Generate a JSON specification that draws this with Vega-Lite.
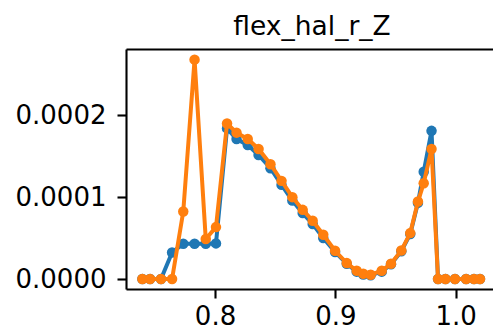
{
  "$schema": "https://vega.github.io/schema/vega-lite/v6.json",
  "width": 367,
  "height": 240,
  "autosize": {"type": "none"},
  "padding": {"left": 126, "top": 49, "right": 0, "bottom": 41},
  "background": "white",
  "config": {
    "view": {"stroke": null},
    "font": "DejaVu Sans",
    "axis": {
      "grid": false,
      "title": null,
      "labelFont": "DejaVu Sans",
      "labelFontSize": 26,
      "labelColor": "black",
      "domainColor": "black",
      "domainWidth": 2.1,
      "tickColor": "black",
      "tickWidth": 2.1,
      "tickSize": 9,
      "labelPadding": 11,
      "labelFlush": false,
      "labelOverlap": false
    }
  },
  "title": {
    "text": "flex_hal_r_Z",
    "font": "DejaVu Sans",
    "fontSize": 26.5,
    "fontWeight": "normal",
    "color": "black",
    "anchor": "middle",
    "frame": "group",
    "baseline": "alphabetic",
    "offset": -12,
    "dx": 2.5
  },
  "datasets": {
    "blue": [
      {"x": 0.7396, "y": 0}, {"x": 0.7460, "y": 0}, {"x": 0.7551, "y": 0}, {"x": 0.7643, "y": 0.0000324},
      {"x": 0.7736, "y": 0.000043}, {"x": 0.7830, "y": 0.000043}, {"x": 0.7923, "y": 0.000043}, {"x": 0.8008, "y": 0.0000435},
      {"x": 0.8100, "y": 0.000184}, {"x": 0.8179, "y": 0.000171}, {"x": 0.8272, "y": 0.0001638}, {"x": 0.8362, "y": 0.0001516},
      {"x": 0.8461, "y": 0.0001354}, {"x": 0.8553, "y": 0.000115}, {"x": 0.8643, "y": 0.0000959}, {"x": 0.8729, "y": 0.0000805},
      {"x": 0.8812, "y": 0.0000671}, {"x": 0.8900, "y": 0.00005}, {"x": 0.8998, "y": 0.000033}, {"x": 0.9095, "y": 0.0000185},
      {"x": 0.9178, "y": 0.000009}, {"x": 0.9233, "y": 0.0000055}, {"x": 0.9294, "y": 0.0000045}, {"x": 0.9386, "y": 0.000009},
      {"x": 0.9463, "y": 0.000018}, {"x": 0.9549, "y": 0.000034}, {"x": 0.9623, "y": 0.000055}, {"x": 0.9687, "y": 0.000093},
      {"x": 0.9735, "y": 0.000131}, {"x": 0.9800, "y": 0.000181}, {"x": 0.9854, "y": 0}, {"x": 0.9916, "y": 0},
      {"x": 0.9995, "y": 0}, {"x": 1.0087, "y": 0}, {"x": 1.0153, "y": 0}, {"x": 1.0203, "y": 0}
    ],
    "orange": [
      {"x": 0.7396, "y": 0}, {"x": 0.7460, "y": 0}, {"x": 0.7551, "y": 0}, {"x": 0.7643, "y": 0},
      {"x": 0.7736, "y": 0.0000824}, {"x": 0.7830, "y": 0.000268}, {"x": 0.7923, "y": 0.0000488}, {"x": 0.8008, "y": 0.0000634},
      {"x": 0.8100, "y": 0.00019}, {"x": 0.8179, "y": 0.0001788}, {"x": 0.8272, "y": 0.0001711}, {"x": 0.8362, "y": 0.0001589},
      {"x": 0.8461, "y": 0.0001402}, {"x": 0.8553, "y": 0.0001199}, {"x": 0.8643, "y": 0.0001}, {"x": 0.8729, "y": 0.0000845},
      {"x": 0.8812, "y": 0.0000711}, {"x": 0.8900, "y": 0.000054}, {"x": 0.8998, "y": 0.0000345}, {"x": 0.9095, "y": 0.0000195},
      {"x": 0.9178, "y": 0.00001}, {"x": 0.9233, "y": 0.0000065}, {"x": 0.9294, "y": 0.0000052}, {"x": 0.9386, "y": 0.00001},
      {"x": 0.9463, "y": 0.0000187}, {"x": 0.9549, "y": 0.0000349}, {"x": 0.9623, "y": 0.0000561}, {"x": 0.9687, "y": 0.0000946},
      {"x": 0.9735, "y": 0.000117}, {"x": 0.9800, "y": 0.0001589}, {"x": 0.9854, "y": 0}, {"x": 0.9916, "y": 0},
      {"x": 0.9995, "y": 0}, {"x": 1.0087, "y": 0}, {"x": 1.0153, "y": 0}, {"x": 1.0203, "y": 0}
    ]
  },
  "resolve": {"axis": {"x": "independent"}},
  "layer": [
    {
      "data": {"name": "blue"},
      "mark": {"type": "line", "color": "#1f77b4", "strokeWidth": 4},
      "encoding": {
        "x": {"field": "x", "type": "quantitative", "scale": {"domain": [0.726, 1.0311], "nice": false, "zero": false},
              "axis": {"orient": "bottom", "values": [0.8, 0.9, 1.0], "format": ".1f", "labelPadding": 5}},
        "y": {"field": "y", "type": "quantitative", "scale": {"domain": [-0.0000122, 0.000281], "nice": false, "zero": false},
              "axis": {"values": [0, 0.0001, 0.0002], "format": ".4f"}}
      }
    },
    {
      "data": {"name": "blue"},
      "mark": {"type": "point", "filled": true, "opacity": 1, "color": "#1f77b4", "size": 110},
      "encoding": {
        "x": {"field": "x", "type": "quantitative", "axis": null},
        "y": {"field": "y", "type": "quantitative"}
      }
    },
    {
      "data": {"name": "orange"},
      "mark": {"type": "line", "color": "#ff7f0e", "strokeWidth": 4},
      "encoding": {
        "x": {"field": "x", "type": "quantitative", "axis": null},
        "y": {"field": "y", "type": "quantitative"}
      }
    },
    {
      "data": {"name": "orange"},
      "mark": {"type": "point", "filled": true, "opacity": 1, "color": "#ff7f0e", "size": 110},
      "encoding": {
        "x": {"field": "x", "type": "quantitative",
              "axis": {"orient": "top", "labels": false, "ticks": false, "domain": true}},
        "y": {"field": "y", "type": "quantitative"}
      }
    }
  ]
}
